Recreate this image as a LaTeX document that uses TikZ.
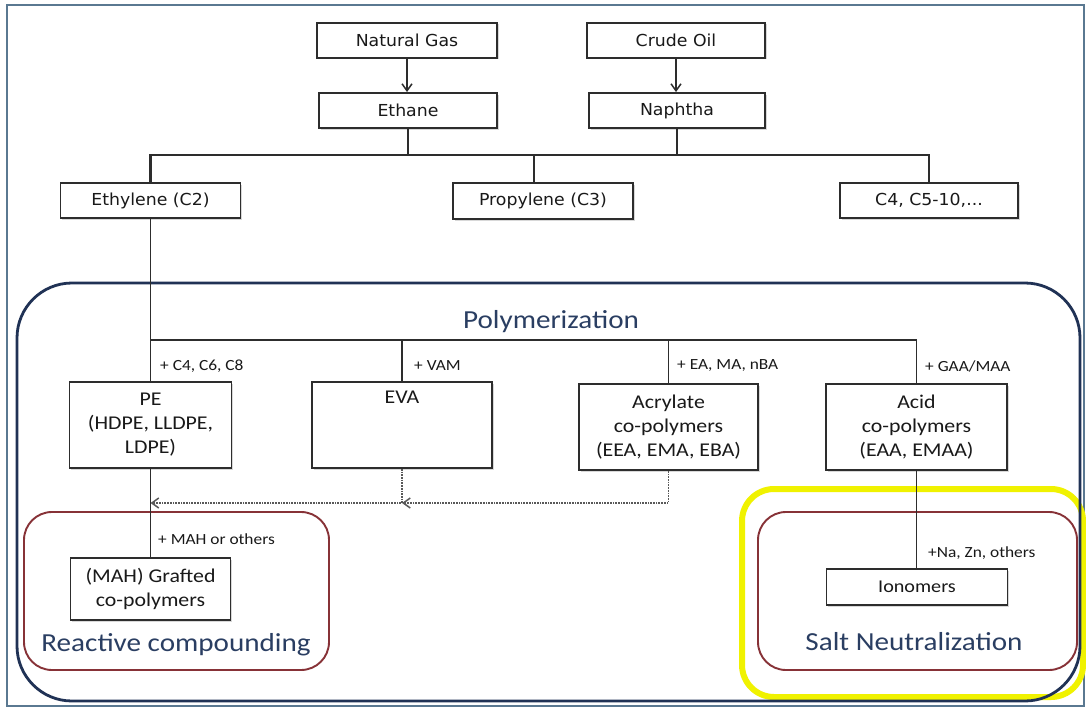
\documentclass[tikz,border=0pt]{standalone}
\usepackage{fontspec}
\usetikzlibrary{arrows.meta,shadows}
\newfontfamily\lowf[FakeStretch=1.12]{Carlito}
\newfontfamily\topf[FakeStretch=1.05]{DejaVu Sans}
\definecolor{navy}{RGB}{32,50,85}
\definecolor{ttl}{RGB}{42,62,98}
\definecolor{dred}{RGB}{135,50,55}
\definecolor{yel}{RGB}{240,242,0}
\definecolor{frm}{RGB}{90,120,145}
\definecolor{ln}{RGB}{45,45,45}
\begin{document}
\begin{tikzpicture}[x=1pt,y=-1pt,
  shad/.style={drop shadow={shadow xshift=1.5pt, shadow yshift=-1.5pt, opacity=0.3}},
  tbox/.style={draw=ln, line width=1.9pt, fill=white, minimum height=35pt, inner sep=0pt,
    font=\topf\fontsize{16.5}{19}\selectfont, text=black!90, shad},
  lbox/.style={draw=ln, line width=1.8pt, fill=white, inner sep=0pt, align=center,
    font=\lowf\fontsize{19.5}{24}\selectfont, text=black!90, shad},
  lab/.style={font=\lowf\fontsize{15.5}{18}\selectfont, anchor=west, text=black!90, inner sep=0pt},
  big/.style={font=\lowf\fontsize{26}{30}\selectfont, text=ttl, anchor=base, inner sep=0pt},
  conn/.style={draw=ln, line width=1.8pt},
  bus/.style={draw=ln, line width=2.3pt},
  dotl/.style={draw=black!65, line width=1.7pt, densely dotted},
  arr/.style={-{Straight Barb[length=7pt,width=10pt,line width=1.5pt]}},
]
\useasboundingbox (0,0) rectangle (1086,709);
\fill[white] (0,0) rectangle (1086,709);
\draw[frm, line width=1.8pt] (7,5) rectangle (1084,706);

% group frames
\draw[yel, line width=6pt, rounded corners=32pt] (742,489) rectangle (1083,697);
\draw[navy, line width=2.8pt, rounded corners=55pt] (17,283) rectangle (1080,701);
\draw[dred, line width=1.9pt, rounded corners=28pt] (24,512) rectangle (329,670);
\draw[dred, line width=1.9pt, rounded corners=28pt] (758,512) rectangle (1077,670);

% top boxes
\node[tbox, minimum width=180pt] (ng) at (407,40.5) {Natural Gas};
\node[tbox, minimum width=178pt] (co) at (676,40.5) {Crude Oil};
\node[tbox, minimum width=178pt] (eth) at (408,110.5) {Ethane};
\node[tbox, minimum width=176pt] (nap) at (677,110.5) {Naphtha};
\node[tbox, minimum width=180pt] (ethy) at (150.5,200.5) {Ethylene (C2)};
\node[tbox, minimum width=180pt, minimum height=36pt] (prop) at (543,201) {Propylene (C3)};
\node[tbox, minimum width=178pt] (c4) at (929,200.5) {C4, C5-10,...};

% lower boxes
\node[lbox, minimum width=162pt, minimum height=86pt] (pe) at (150.5,425) {PE\\(HDPE, LLDPE,\\LDPE)};
\node[lbox, minimum width=180pt, minimum height=86pt] (eva) at (402,425) {EVA\\\strut\\\strut};
\node[lbox, minimum width=179pt, minimum height=86pt] (acr) at (668.5,427) {Acrylate\\co-polymers\\(EEA, EMA, EBA)};
\node[lbox, minimum width=181pt, minimum height=86pt] (acid) at (916.5,427) {Acid\\co-polymers\\(EAA, EMAA)};
\node[lbox, minimum width=160pt, minimum height=62pt] (mah) at (150.5,589) {(MAH) Grafted\\co-polymers};
\node[lbox, minimum width=181pt, minimum height=36pt, font=\lowf\fontsize{18}{22}\selectfont] (iono) at (917,587) {Ionomers};

% titles
\node[big] (tp) at (551,328) {Polymerization};
\node[big] (tr) at (176,651) {Reactive compounding};
\node[big] (ts) at (914,650) {Salt Neutralization};

% labels
\node[lab] (l1) at (160,366) {+ C4, C6, C8};
\node[lab] (l2) at (414,366) {+ VAM};
\node[lab] (l3) at (677,366) {+ EA, MA, nBA};
\node[lab] (l4) at (925,366) {+ GAA/MAA};
\node[lab] (l5) at (158,539) {+ MAH or others};
\node[lab] (l6) at (928,553) {+Na, Zn, others};

% connectors top
\coordinate (b1) at (0,155);
\coordinate (pv) at (534,155);
\draw[conn, arr] (ng.south) -- (ng.south |- eth.north);
\draw[conn, arr] (co.south) -- (co.south |- nap.north);
\draw[bus] (ethy.north) -- (ethy.north |- b1) -- (c4.north |- b1) -- (c4.north);
\draw[conn] (eth.south) -- (eth.south |- b1);
\draw[conn] (nap.south) -- (nap.south |- b1);
\draw[conn] (pv) -- (pv |- prop.north);

% polymerization bus
\coordinate (pb) at (0,340);
\draw[conn] (ethy.south) -- (ethy.south |- pb) -- (acid.north |- pb) -- (acid.north);
\draw[conn] (pe.north |- pb) -- (pe.north);
\draw[conn] (eva.north |- pb) -- (eva.north);
\draw[conn] (acr.north |- pb) -- (acr.north);

% dotted arrows
\coordinate (dy) at (0,503);
\draw[dotl, arr] (eva.south) -- (eva.south |- dy) -- (pe.south |- dy);
\draw[dotl, arr] (acr.south) -- (acr.south |- dy) -- (eva.south |- dy);

% lower connectors
\draw[conn] (pe.south) -- (mah.north);
\draw[conn] (acid.south) -- (acid.south |- iono.north);
\end{tikzpicture}
\end{document}
